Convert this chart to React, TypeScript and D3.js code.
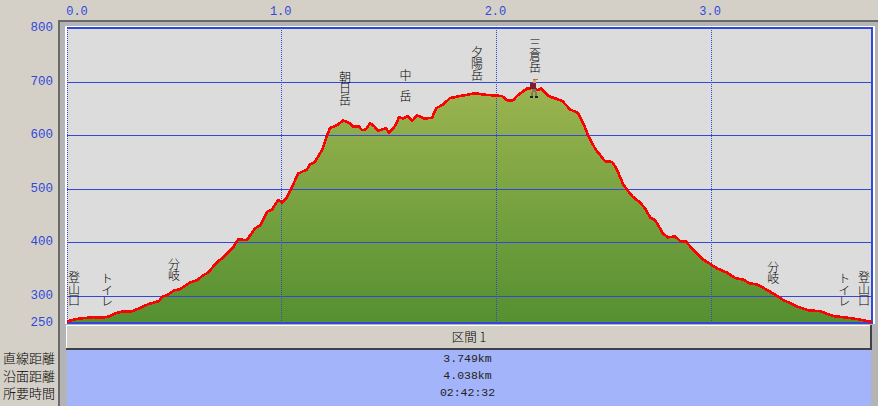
import React from "react";
import * as d3 from "d3";

const distanceKm = [0,.051,.121,.168,.2,.224,.261,.303,.34,.377,.429,.443,.47,.498,.526,.573,.606,.633,.657,.699,.727,.773,.797,.838,.876,.899,.932,.955,.983,1.001,1.025,1.048,1.076,1.118,1.132,1.151,1.188,1.211,1.225,1.258,1.286,1.314,1.332,1.36,1.374,1.393,1.411,1.43,1.449,1.486,1.5,1.528,1.546,1.565,1.588,1.607,1.63,1.663,1.7,1.719,1.747,1.784,1.831,1.9,1.956,2.026,2.05,2.077,2.101,2.143,2.171,2.189,2.208,2.241,2.306,2.343,2.38,2.404,2.427,2.459,2.492,2.506,2.539,2.562,2.59,2.632,2.669,2.692,2.716,2.739,2.776,2.799,2.832,2.855,2.883,2.925,2.962,2.981,3.028,3.074,3.112,3.149,3.181,3.214,3.242,3.289,3.336,3.4,3.452,3.508,3.568,3.633,3.685,3.749];
const elevationM = [252,257,260,259,262,267,271,271,277,284,290,298,302,310,312,325,329,338,343,363,371,390,405,404,426,431,457,461,479,474,484,503,528,536,546,548,572,600,613,619,627,623,616,616,609,611,622,617,608,613,604,617,633,631,636,626,637,631,632,650,656,669,673,678,675,673,665,665,675,687,688,684,687,673,664,648,641,622,600,575,558,551,550,535,508,486,474,463,446,441,416,409,411,402,401,382,368,363,351,343,333,330,323,321,315,304,292,280,273,271,262,259,256,251];
const xTicks = [0, 1, 2, 3];
const yTicks = [800, 700, 600, 500, 400, 300];
const yBottomLabel = 250;
const peakNames = ["登山口", "トイレ", "分岐", "朝日岳", "中岳", "夕陽岳", "三倉岳", "分岐", "トイレ", "登山口"];
const peakKm = [0.033, 0.186, 0.498, 1.295, 1.577, 1.91, 2.18, 3.289, 3.62, 3.712];
const peakBottomM = [282, 280, 329, 656, 664, 703, 718, 323, 280, 282];
const peakSpacing = [11.7, 11.7, 11.7, 11.7, 21, 11.7, 11.7, 11.7, 11.7, 11.7];
const rowLabels = ["直線距離", "沿面距離", "所要時間"];
const rowValues = ["3.749km", "4.038km", "02:42:32"];
const sectionTitle = "区間 1";

const W = 878, H = 406;
const jp = "'Noto Sans CJK JP', sans-serif";
const mono = "'Liberation Mono', 'DejaVu Sans Mono', monospace";
const x = d3.scaleLinear().domain([0, 3.749]).range([67, 872]);
const y = d3.scaleLinear().domain([250, 800]).range([322.5, 28]);
const pts = distanceKm.map((d, i) => [d, elevationM[i]] as [number, number]);
const line = d3.line<[number, number]>().x(d => x(d[0])).y(d => y(d[1]));
const area = d3.area<[number, number]>().x(d => x(d[0])).y1(d => y(d[1])).y0(y(250));

export default function App() {
  const blue = "#3049d8";
  return (
    <svg width={W} height={H} style={{ position: "fixed", left: 0, top: 0, display: "block" }} shapeRendering="crispEdges">
      <defs>
        <linearGradient id="g" gradientUnits="userSpaceOnUse" x1="0" x2="0" y1={y(690)} y2={y(250)}>
          <stop offset="0" stopColor="#9bb450" />
          <stop offset="1" stopColor="#559030" />
        </linearGradient>
      </defs>
      <rect width={W} height={H} fill="#d4d0c8" />
      <rect x={58} y={20} width={W - 58} height={2} fill="#6a6a6a" />
      <rect x={58} y={20} width={2} height={H - 20} fill="#6a6a6a" />
      <rect x={60} y={22} width={W - 60} height={H - 22} fill="#b4b4b4" />
      <rect x={65} y={26} width={810} height={298} fill="#ffffff" />
      <rect x={67} y={28} width={805} height={294.5} fill="#dcdcdc" />

      <path d={area(pts) ?? ""} fill="url(#g)" shapeRendering="auto" />

      {yTicks.slice(1).map(t => (
        <line key={t} x1={67} x2={872} y1={Math.round(y(t)) + 0.5} y2={Math.round(y(t)) + 0.5} stroke={blue} strokeWidth={1} />
      ))}
      {xTicks.map(t => (
        <line key={t} x1={Math.floor(x(t)) + 0.5} x2={Math.floor(x(t)) + 0.5} y1={28} y2={322} stroke={blue} strokeWidth={1} strokeDasharray="1 1" />
      ))}
      <rect x={67} y={27} width={806} height={2} fill={blue} />
      <rect x={67} y={322} width={806} height={2} fill={blue} />
      <rect x={871} y={27} width={2} height={297} fill={blue} />

      <path d={line(pts) ?? ""} fill="none" stroke="#ff0000" strokeWidth={2.6} strokeLinejoin="round" />

      {xTicks.map(t => (
        <text key={t} x={t === 0 ? x(t) + 10 : x(t) - 1} y={15} fontFamily={mono} fontSize={12} fill={blue} textAnchor="middle">{t.toFixed(1)}</text>
      ))}
      {[...yTicks, yBottomLabel].map(t => (
        <text key={t} x={53} y={y(t) + 3} fontFamily={mono} fontSize={12.5} fill={blue} textAnchor="end">{t}</text>
      ))}

      {peakNames.map((name, i) => (
        <text
          key={i}
          x={x(peakKm[i])}
          y={y(peakBottomM[i]) - (name.length - 1) * peakSpacing[i] - 10.5}
          fontFamily={jp}
          fontSize={12}
          fontWeight={300}
          fill="#000"
          style={{ writingMode: "vertical-rl", letterSpacing: peakSpacing[i] - 12 }}
        >{name}</text>
      ))}

      <g transform={`translate(${x(2.172)},${y(693)})`}>
        <rect x={0} y={-6} width={5} height={1} fill="#c8702a" />
        <rect x={0} y={-5} width={3} height={3} fill="#e0a070" />
        <rect x={-3} y={-2} width={6} height={6} fill="#7a2030" />
        <rect x={-1} y={4} width={4} height={3} fill="#857a5a" />
        <rect x={-2} y={7} width={2} height={4} fill="#857a5a" />
        <rect x={2} y={7} width={2} height={4} fill="#857a5a" />
        <rect x={-3} y={11} width={3} height={2} fill="#222" />
        <rect x={2} y={11} width={3} height={2} fill="#222" />
      </g>

      <rect x={66} y={325} width={806} height={25} fill="#404048" />
      <rect x={66} y={325} width={804} height={23} fill="#ffffff" />
      <rect x={67} y={326} width={803} height={22} fill="#d4d0c8" />
      <text x={469} y={342} fontFamily={jp} fontSize={12.5} fontWeight={300} fill="#000" textAnchor="middle">{sectionTitle}</text>
      <rect x={67} y={350} width={804} height={56} fill="#a4b4fb" />
      {rowValues.map((v, i) => (
        <text key={v} x={467.5} y={362 + i * 17} fontFamily={mono} fontSize={11.5} fill="#222" textAnchor="middle">{v}</text>
      ))}
      {rowLabels.map((l, i) => (
        <text key={l} x={3} y={363 + i * 17.5} fontFamily={jp} fontSize={13} fontWeight={300} fill="#000">{l}</text>
      ))}
    </svg>
  );
}
